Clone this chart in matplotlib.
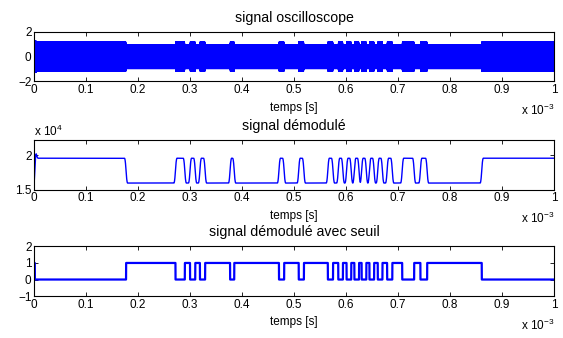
import numpy as np
import matplotlib
matplotlib.use('Agg')
import matplotlib.pyplot as plt
from matplotlib.ticker import FuncFormatter

plt.rcParams['font.family'] = ['Liberation Sans', 'DejaVu Sans']
plt.rcParams['font.size'] = 8.5
plt.rcParams['mathtext.fontset'] = 'custom'
plt.rcParams['mathtext.rm'] = 'Liberation Sans'

# intervals (in ms) where the demodulated signal is at its high level
high_start = [0.0015, 0.272, 0.300, 0.319, 0.377, 0.471, 0.509, 0.565, 0.585,
              0.601, 0.616, 0.630, 0.645, 0.661, 0.679, 0.708, 0.743, 0.861]
high_end = [0.177, 0.290, 0.310, 0.329, 0.385, 0.481, 0.519, 0.575, 0.594,
            0.610, 0.625, 0.639, 0.654, 0.670, 0.689, 0.731, 0.756, 1.0]

# levels
demod_high = 19600
demod_low = 16000
demod_first = 15000      # value at t = 0
overshoot = [0.0015, 0.005]
overshoot_level = 20500
seuil = 17800
carrier_f = 4e6          # Hz, only used to fill the top band
ampl_scale = 16300       # demod -> oscilloscope amplitude

xticks = [0, 0.1, 0.2, 0.3, 0.4, 0.5, 0.6, 0.7, 0.8, 0.9, 1.0]
titles = ['signal oscilloscope', 'signal démodulé', 'signal démodulé avec seuil']


def smooth(x, n, passes):
    k = np.ones(n) / n
    for i in range(passes):
        pad = np.concatenate((np.full(n, x[0]), x, np.full(n, x[-1])))
        x = np.convolve(pad, k, mode='same')[n:-n]
    return x


# build signals
t_ms = np.linspace(0, 1, 100001)
t = t_ms * 1e-3
raw = np.full(t_ms.shape, float(demod_low))
for a, b in zip(high_start, high_end):
    raw[(t_ms >= a) & (t_ms <= b)] = demod_high
raw[(t_ms >= overshoot[0]) & (t_ms < overshoot[1])] = overshoot_level
raw[t_ms < high_start[0]] = demod_first

demod = smooth(raw, 300, 2)
demod[0] = demod_first

seuil_sig = (demod < seuil).astype(float)
osc = smooth(raw, 60, 1) / ampl_scale * np.sin(2 * np.pi * carrier_f * t)

fig = plt.figure(figsize=(5.63, 3.38), dpi=100)
L = 34 / 563
W = 520 / 563
H = 0.147
axs = [fig.add_axes([L, 0.759, W, H]),
       fig.add_axes([L, 0.438, W, H]),
       fig.add_axes([L, 0.124, W, H])]

axs[0].plot(t, osc, color='b', linewidth=0.5)
axs[0].set_ylim(-2, 2)
axs[0].set_yticks([-2, 0, 2])

axs[1].plot(t, demod, color='b', linewidth=1.0)
axs[1].set_ylim(15000, 22200)
axs[1].set_yticks([15000, 20000])
axs[1].yaxis.set_major_formatter(FuncFormatter(lambda v, p: '%g' % (v / 1e4)))
axs[1].text(0.0, 1.17, 'x 10$^{4}$', transform=axs[1].transAxes,
            ha='left', va='center')

axs[2].plot(t, seuil_sig, color='b', linewidth=1.6)
axs[2].set_ylim(-1, 2)
axs[2].set_yticks([-1, 0, 1, 2])

for ax, ttl in zip(axs, titles):
    ax.set_xlim(0, 1e-3)
    ax.set_xticks([x * 1e-3 for x in xticks])
    ax.xaxis.set_major_formatter(FuncFormatter(lambda v, p: '%g' % round(v * 1e3, 3)))
    ax.tick_params(direction='in', top=True, right=True, length=3, width=0.6, pad=1.8)
    for s in ax.spines.values():
        s.set_linewidth(0.8)
    ax.set_title(ttl, y=1.28, pad=0, va='center')
    ax.set_xlabel('temps [s]')
    ax.xaxis.set_label_coords(0.5, -0.53)
    ax.xaxis.label.set_va('center')
    ax.text(1.0, -0.58, 'x 10$^{-3}$', transform=ax.transAxes,
            ha='right', va='center')

fig.savefig('out.png', dpi=100)
